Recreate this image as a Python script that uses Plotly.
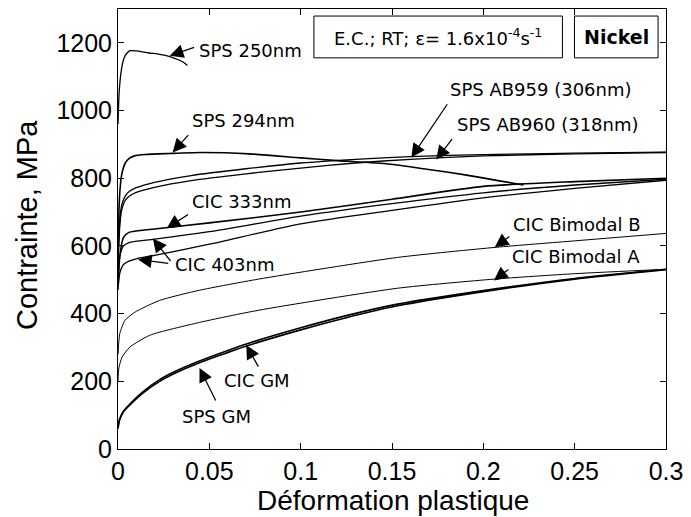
import plotly.graph_objects as go

# ---------------- data ----------------
sps250_x = [0, 0.0005, 0.001, 0.002, 0.003, 0.004, 0.005, 0.0065, 0.01, 0.017, 0.022, 0.028, 0.033, 0.036, 0.038]
sps250_y = [960, 1040, 1080, 1125, 1150, 1163, 1170, 1177, 1176, 1170, 1167, 1160, 1150, 1142, 1133]

sps294_x = [0, 0.0005, 0.001, 0.002, 0.004, 0.006, 0.009, 0.015, 0.028, 0.045, 0.072, 0.1, 0.12, 0.148, 0.17, 0.19, 0.208, 0.222]
sps294_y = [620, 700, 760, 810, 845, 858, 866, 870, 873, 876, 872, 860, 852, 842, 826, 810, 793, 780]

ab_x = [0, 0.001, 0.002, 0.004, 0.0065, 0.01, 0.02, 0.04, 0.07, 0.1, 0.13, 0.16, 0.2, 0.25, 0.3]
ab959_y = [560, 680, 720, 748, 762, 772, 788, 808, 828, 845, 856, 864, 870, 874, 877]
ab960_y = [540, 660, 705, 735, 748, 758, 773, 793, 813, 830, 845, 856, 866, 872, 876]

cic_x = [0, 0.001, 0.003, 0.006, 0.01, 0.02, 0.05, 0.1, 0.15, 0.2, 0.25, 0.3]
cic333_y = [480, 570, 625, 640, 644, 650, 668, 700, 738, 776, 790, 800]
cic403a_y = [500, 570, 600, 610, 614, 620, 642, 688, 725, 757, 780, 797]
cic403b_y = [470, 520, 545, 555, 562, 572, 605, 665, 705, 742, 770, 794]

bimB_x = [0, 0.0005, 0.001, 0.0038, 0.0092, 0.0228, 0.0446, 0.077, 0.153, 0.207, 0.25, 0.3]
bimB_y = [280, 320, 342, 380, 404, 439, 469, 502, 566, 596, 615, 637]

bimA_x = [0, 0.0005, 0.0022, 0.0065, 0.0174, 0.0446, 0.077, 0.153, 0.206, 0.25, 0.3]
bimA_y = [200, 240, 271, 301, 336, 374, 410, 475, 502, 518, 531]

gm_x = [0, 0.0005, 0.001, 0.003, 0.0065, 0.0136, 0.0228, 0.032, 0.0446, 0.059, 0.0707, 0.1, 0.125, 0.153, 0.2, 0.25, 0.3]
spsgm_y = [60, 78, 88, 110, 130, 165, 200, 226, 255, 283, 305, 352, 388, 423, 465, 502, 530]
cicgm_y = [62, 80, 90, 112, 133, 169, 205, 231, 260, 289, 311, 358, 394, 428, 468, 504, 531]

x_ticks = [0, 0.05, 0.1, 0.15, 0.2, 0.25, 0.3]
x_tick_text = ["0", "0.05", "0.1", "0.15", "0.2", "0.25", "0.3"]
y_ticks = [0, 200, 400, 600, 800, 1000, 1200]

# labels: (text, x, y) left-anchored text
labels = [
    ("SPS 250nm", 0.0430, 1176),
    ("SPS 294nm", 0.0392, 970),
    ("SPS AB959 (306nm)", 0.1808, 1061),
    ("SPS AB960 (318nm)", 0.1846, 958),
    ("CIC 333nm", 0.0392, 731),
    ("CIC 403nm", 0.0299, 545),
    ("CIC Bimodal B", 0.2151, 663),
    ("CIC Bimodal A", 0.2145, 569),
    ("CIC GM", 0.0572, 203),
    ("SPS GM", 0.0338, 97),
]
# arrows: (tail_x, tail_y, tip_x, tip_y)
arrows = [
    (0.0425, 1188, 0.0283, 1162),
    (0.0392, 932, 0.0299, 876),
    (0.1808, 1023, 0.1606, 861),
    (0.1835, 920, 0.1742, 855),
    (0.0392, 696, 0.0267, 652),
    (0.0294, 551, 0.0191, 622),
    (0.0283, 548, 0.0109, 560),
    (0.2151, 631, 0.2063, 596),
    (0.2145, 534, 0.2058, 498),
    (0.0773, 239, 0.0702, 307),
    (0.0539, 139, 0.0446, 239),
]

# ---------------- figure ----------------
fig = go.Figure()
series = [
    (sps250_x, sps250_y, 1.3),
    (sps294_x, sps294_y, 1.6),
    (ab_x, ab959_y, 1.3),
    (ab_x, ab960_y, 1.3),
    (cic_x, cic333_y, 1.6),
    (cic_x, cic403a_y, 1.3),
    (cic_x, cic403b_y, 1.3),
    (bimB_x, bimB_y, 1.0),
    (bimA_x, bimA_y, 1.0),
    (gm_x, spsgm_y, 1.6),
    (gm_x, cicgm_y, 1.6),
]
for xs, ys, w in series:
    fig.add_trace(go.Scatter(x=xs, y=ys, mode="lines", line=dict(color="black", width=w, shape="spline", smoothing=0.6),
                             showlegend=False, hoverinfo="skip"))

ann = []
for t, x, y in labels:
    ann.append(dict(text=t, x=x, y=y, xref="x", yref="y", xanchor="left", yanchor="middle", showarrow=False,
                    font=dict(family="DejaVu Sans", size=18, color="black")))
for tx, ty, hx, hy in arrows:
    ann.append(dict(text="", x=hx, y=hy, ax=tx, ay=ty, xref="x", yref="y", axref="x", ayref="y",
                    showarrow=True, arrowhead=2, arrowsize=2.2, arrowwidth=1.25, arrowcolor="black", standoff=0))
# boxes text
ann.append(dict(text="E.C.; RT; ε= 1.6x10<sup>-4</sup>s<sup>-1</sup>", x=0.584, y=0.936, xref="paper", yref="paper",
                xanchor="center", yanchor="middle", showarrow=False, font=dict(family="DejaVu Sans", size=18, color="black")))
ann.append(dict(text="<b>Nickel</b>", x=0.909, y=0.936, xref="paper", yref="paper",
                xanchor="center", yanchor="middle", showarrow=False, font=dict(family="DejaVu Sans", size=19, color="black")))
# axis titles
ann.append(dict(text="Contrainte, MPa", x=-0.165, y=0.508, xref="paper", yref="paper", textangle=-90,
                xanchor="center", yanchor="middle", showarrow=False, font=dict(family="Liberation Sans", size=29, color="black")))
ann.append(dict(text="Déformation plastique", x=0.501, y=-0.118, xref="paper", yref="paper",
                xanchor="center", yanchor="middle", showarrow=False, font=dict(family="Liberation Sans", size=28, color="black")))

shapes = [
    dict(type="rect", xref="paper", yref="paper", x0=0.3575, x1=0.811, y0=0.889, y1=0.984, line=dict(color="black", width=1)),
    dict(type="rect", xref="paper", yref="paper", x0=0.833, x1=0.9855, y0=0.889, y1=0.984, line=dict(color="black", width=1)),
]

axis_common = dict(showgrid=False, zeroline=False, showline=True, linecolor="black", linewidth=1,
                   mirror="ticks", ticks="inside", ticklen=6, tickcolor="black",
                   tickfont=dict(family="Liberation Sans", size=25, color="black"))
fig.update_layout(
    width=691, height=517,
    margin=dict(l=118, r=22, t=8, b=68),
    paper_bgcolor="white", plot_bgcolor="white",
    xaxis=dict(range=[0, 0.3], tickvals=x_ticks, ticktext=x_tick_text, **axis_common),
    yaxis=dict(range=[0, 1300], tickvals=y_ticks, **axis_common),
    annotations=ann, shapes=shapes,
)
fig.write_html("out.html")
